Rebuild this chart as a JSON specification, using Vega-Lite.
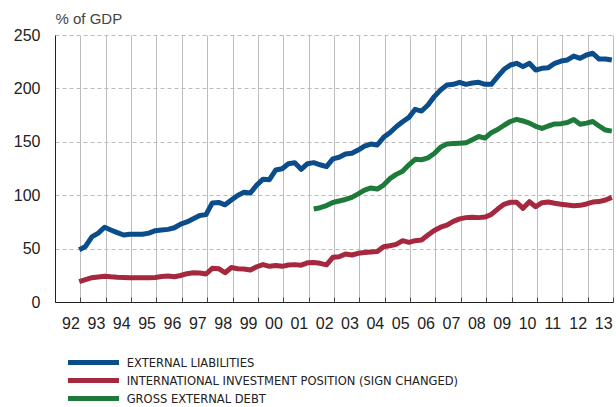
{
  "$schema": "https://vega.github.io/schema/vega-lite/v6.json",
  "width": 558,
  "height": 267,
  "autosize": "none",
  "padding": {"left": 55, "top": 35, "right": 3, "bottom": 105},
  "background": "white",
  "config": {"view": {"stroke": null}, "font": "Liberation Sans"},
  "data": {"values": [
    {"date":"1992-12-15","series":"EL","value":49},
    {"date":"1993-03-15","series":"EL","value":52},
    {"date":"1993-06-15","series":"EL","value":61},
    {"date":"1993-09-15","series":"EL","value":64.5},
    {"date":"1993-12-15","series":"EL","value":70},
    {"date":"1994-03-15","series":"EL","value":67.4},
    {"date":"1994-06-15","series":"EL","value":65},
    {"date":"1994-09-15","series":"EL","value":62.7},
    {"date":"1994-12-15","series":"EL","value":63.5},
    {"date":"1995-03-15","series":"EL","value":63.5},
    {"date":"1995-06-15","series":"EL","value":63.5},
    {"date":"1995-09-15","series":"EL","value":64.5},
    {"date":"1995-12-15","series":"EL","value":66.8},
    {"date":"1996-03-15","series":"EL","value":67.5},
    {"date":"1996-06-15","series":"EL","value":68},
    {"date":"1996-09-15","series":"EL","value":69.5},
    {"date":"1996-12-15","series":"EL","value":73},
    {"date":"1997-03-15","series":"EL","value":75},
    {"date":"1997-06-15","series":"EL","value":78},
    {"date":"1997-09-15","series":"EL","value":81},
    {"date":"1997-12-15","series":"EL","value":81.8},
    {"date":"1998-03-15","series":"EL","value":92.8},
    {"date":"1998-06-15","series":"EL","value":93.2},
    {"date":"1998-09-15","series":"EL","value":91},
    {"date":"1998-12-15","series":"EL","value":95.5},
    {"date":"1999-03-15","series":"EL","value":99.7},
    {"date":"1999-06-15","series":"EL","value":102.7},
    {"date":"1999-09-15","series":"EL","value":102},
    {"date":"1999-12-15","series":"EL","value":109.5},
    {"date":"2000-03-15","series":"EL","value":115},
    {"date":"2000-06-15","series":"EL","value":114.5},
    {"date":"2000-09-15","series":"EL","value":123.6},
    {"date":"2000-12-15","series":"EL","value":124.8},
    {"date":"2001-03-15","series":"EL","value":129.5},
    {"date":"2001-06-15","series":"EL","value":130.3},
    {"date":"2001-09-15","series":"EL","value":124.2},
    {"date":"2001-12-15","series":"EL","value":129.5},
    {"date":"2002-03-15","series":"EL","value":130.5},
    {"date":"2002-06-15","series":"EL","value":128.5},
    {"date":"2002-09-15","series":"EL","value":126.7},
    {"date":"2002-12-15","series":"EL","value":134},
    {"date":"2003-03-15","series":"EL","value":135.5},
    {"date":"2003-06-15","series":"EL","value":138.6},
    {"date":"2003-09-15","series":"EL","value":139.2},
    {"date":"2003-12-15","series":"EL","value":142.3},
    {"date":"2004-03-15","series":"EL","value":146},
    {"date":"2004-06-15","series":"EL","value":147.9},
    {"date":"2004-09-15","series":"EL","value":147},
    {"date":"2004-12-15","series":"EL","value":154.2},
    {"date":"2005-03-15","series":"EL","value":158.5},
    {"date":"2005-06-15","series":"EL","value":164.1},
    {"date":"2005-09-15","series":"EL","value":168.8},
    {"date":"2005-12-15","series":"EL","value":172.9},
    {"date":"2006-03-15","series":"EL","value":180.4},
    {"date":"2006-06-15","series":"EL","value":178.8},
    {"date":"2006-09-15","series":"EL","value":184.5},
    {"date":"2006-12-15","series":"EL","value":192.3},
    {"date":"2007-03-15","series":"EL","value":198.5},
    {"date":"2007-06-15","series":"EL","value":203.2},
    {"date":"2007-09-15","series":"EL","value":203.8},
    {"date":"2007-12-15","series":"EL","value":205.7},
    {"date":"2008-03-15","series":"EL","value":203.8},
    {"date":"2008-06-15","series":"EL","value":205},
    {"date":"2008-09-15","series":"EL","value":205.7},
    {"date":"2008-12-15","series":"EL","value":203.8},
    {"date":"2009-03-15","series":"EL","value":203.8},
    {"date":"2009-06-15","series":"EL","value":211},
    {"date":"2009-09-15","series":"EL","value":217.9},
    {"date":"2009-12-15","series":"EL","value":221.9},
    {"date":"2010-03-15","series":"EL","value":223.5},
    {"date":"2010-06-15","series":"EL","value":220.4},
    {"date":"2010-09-15","series":"EL","value":223.5},
    {"date":"2010-12-15","series":"EL","value":217.2},
    {"date":"2011-03-15","series":"EL","value":218.8},
    {"date":"2011-06-15","series":"EL","value":219.4},
    {"date":"2011-09-15","series":"EL","value":223.5},
    {"date":"2011-12-15","series":"EL","value":225.6},
    {"date":"2012-03-15","series":"EL","value":226.6},
    {"date":"2012-06-15","series":"EL","value":230.3},
    {"date":"2012-09-15","series":"EL","value":228.2},
    {"date":"2012-12-15","series":"EL","value":231.3},
    {"date":"2013-03-15","series":"EL","value":232.9},
    {"date":"2013-06-15","series":"EL","value":227.5},
    {"date":"2013-09-15","series":"EL","value":227.5},
    {"date":"2013-12-15","series":"EL","value":226.6},
    {"date":"1992-12-15","series":"IIP","value":19},
    {"date":"1993-03-15","series":"IIP","value":21},
    {"date":"1993-06-15","series":"IIP","value":22.8},
    {"date":"1993-09-15","series":"IIP","value":23.5},
    {"date":"1993-12-15","series":"IIP","value":24.2},
    {"date":"1994-03-15","series":"IIP","value":23.6},
    {"date":"1994-06-15","series":"IIP","value":23.2},
    {"date":"1994-09-15","series":"IIP","value":23},
    {"date":"1994-12-15","series":"IIP","value":22.8},
    {"date":"1995-03-15","series":"IIP","value":22.6},
    {"date":"1995-06-15","series":"IIP","value":22.6},
    {"date":"1995-09-15","series":"IIP","value":22.8},
    {"date":"1995-12-15","series":"IIP","value":23},
    {"date":"1996-03-15","series":"IIP","value":23.8},
    {"date":"1996-06-15","series":"IIP","value":24.3},
    {"date":"1996-09-15","series":"IIP","value":23.7},
    {"date":"1996-12-15","series":"IIP","value":24.8},
    {"date":"1997-03-15","series":"IIP","value":26.5},
    {"date":"1997-06-15","series":"IIP","value":27.4},
    {"date":"1997-09-15","series":"IIP","value":27.2},
    {"date":"1997-12-15","series":"IIP","value":26.2},
    {"date":"1998-03-15","series":"IIP","value":31.5},
    {"date":"1998-06-15","series":"IIP","value":31.2},
    {"date":"1998-09-15","series":"IIP","value":27.4},
    {"date":"1998-12-15","series":"IIP","value":32.3},
    {"date":"1999-03-15","series":"IIP","value":31.2},
    {"date":"1999-06-15","series":"IIP","value":30.9},
    {"date":"1999-09-15","series":"IIP","value":30},
    {"date":"1999-12-15","series":"IIP","value":33},
    {"date":"2000-03-15","series":"IIP","value":35},
    {"date":"2000-06-15","series":"IIP","value":33.4},
    {"date":"2000-09-15","series":"IIP","value":34.2},
    {"date":"2000-12-15","series":"IIP","value":33.4},
    {"date":"2001-03-15","series":"IIP","value":34.6},
    {"date":"2001-06-15","series":"IIP","value":35},
    {"date":"2001-09-15","series":"IIP","value":34.5},
    {"date":"2001-12-15","series":"IIP","value":36.7},
    {"date":"2002-03-15","series":"IIP","value":37},
    {"date":"2002-06-15","series":"IIP","value":36.2},
    {"date":"2002-09-15","series":"IIP","value":34.8},
    {"date":"2002-12-15","series":"IIP","value":41.8},
    {"date":"2003-03-15","series":"IIP","value":42.4},
    {"date":"2003-06-15","series":"IIP","value":44.9},
    {"date":"2003-09-15","series":"IIP","value":44},
    {"date":"2003-12-15","series":"IIP","value":45.6},
    {"date":"2004-03-15","series":"IIP","value":46.3},
    {"date":"2004-06-15","series":"IIP","value":46.8},
    {"date":"2004-09-15","series":"IIP","value":47.2},
    {"date":"2004-12-15","series":"IIP","value":51.8},
    {"date":"2005-03-15","series":"IIP","value":52.7},
    {"date":"2005-06-15","series":"IIP","value":54},
    {"date":"2005-09-15","series":"IIP","value":57.4},
    {"date":"2005-12-15","series":"IIP","value":55.9},
    {"date":"2006-03-15","series":"IIP","value":57.4},
    {"date":"2006-06-15","series":"IIP","value":58},
    {"date":"2006-09-15","series":"IIP","value":62.7},
    {"date":"2006-12-15","series":"IIP","value":67},
    {"date":"2007-03-15","series":"IIP","value":70},
    {"date":"2007-06-15","series":"IIP","value":72},
    {"date":"2007-09-15","series":"IIP","value":75.5},
    {"date":"2007-12-15","series":"IIP","value":77.8},
    {"date":"2008-03-15","series":"IIP","value":79},
    {"date":"2008-06-15","series":"IIP","value":79.3},
    {"date":"2008-09-15","series":"IIP","value":79},
    {"date":"2008-12-15","series":"IIP","value":79.5},
    {"date":"2009-03-15","series":"IIP","value":82},
    {"date":"2009-06-15","series":"IIP","value":87},
    {"date":"2009-09-15","series":"IIP","value":91.5},
    {"date":"2009-12-15","series":"IIP","value":93.4},
    {"date":"2010-03-15","series":"IIP","value":93.4},
    {"date":"2010-06-15","series":"IIP","value":87.7},
    {"date":"2010-09-15","series":"IIP","value":93.9},
    {"date":"2010-12-15","series":"IIP","value":89.2},
    {"date":"2011-03-15","series":"IIP","value":93},
    {"date":"2011-06-15","series":"IIP","value":93.6},
    {"date":"2011-09-15","series":"IIP","value":92.4},
    {"date":"2011-12-15","series":"IIP","value":91.5},
    {"date":"2012-03-15","series":"IIP","value":90.8},
    {"date":"2012-06-15","series":"IIP","value":90.2},
    {"date":"2012-09-15","series":"IIP","value":90.5},
    {"date":"2012-12-15","series":"IIP","value":91.8},
    {"date":"2013-03-15","series":"IIP","value":93.6},
    {"date":"2013-06-15","series":"IIP","value":94},
    {"date":"2013-09-15","series":"IIP","value":95.5},
    {"date":"2013-12-15","series":"IIP","value":98},
    {"date":"2002-03-15","series":"GED","value":87.1},
    {"date":"2002-06-15","series":"GED","value":88.3},
    {"date":"2002-09-15","series":"GED","value":90.3},
    {"date":"2002-12-15","series":"GED","value":93.2},
    {"date":"2003-03-15","series":"GED","value":94.6},
    {"date":"2003-06-15","series":"GED","value":96},
    {"date":"2003-09-15","series":"GED","value":98},
    {"date":"2003-12-15","series":"GED","value":101.3},
    {"date":"2004-03-15","series":"GED","value":104.8},
    {"date":"2004-06-15","series":"GED","value":106.8},
    {"date":"2004-09-15","series":"GED","value":105.8},
    {"date":"2004-12-15","series":"GED","value":109.5},
    {"date":"2005-03-15","series":"GED","value":115.5},
    {"date":"2005-06-15","series":"GED","value":119.5},
    {"date":"2005-09-15","series":"GED","value":122.5},
    {"date":"2005-12-15","series":"GED","value":128.5},
    {"date":"2006-03-15","series":"GED","value":133.6},
    {"date":"2006-06-15","series":"GED","value":133.2},
    {"date":"2006-09-15","series":"GED","value":135},
    {"date":"2006-12-15","series":"GED","value":139},
    {"date":"2007-03-15","series":"GED","value":145},
    {"date":"2007-06-15","series":"GED","value":148},
    {"date":"2007-09-15","series":"GED","value":148.3},
    {"date":"2007-12-15","series":"GED","value":148.6},
    {"date":"2008-03-15","series":"GED","value":149},
    {"date":"2008-06-15","series":"GED","value":152},
    {"date":"2008-09-15","series":"GED","value":155},
    {"date":"2008-12-15","series":"GED","value":153.5},
    {"date":"2009-03-15","series":"GED","value":158.5},
    {"date":"2009-06-15","series":"GED","value":161.5},
    {"date":"2009-09-15","series":"GED","value":165.5},
    {"date":"2009-12-15","series":"GED","value":169},
    {"date":"2010-03-15","series":"GED","value":171},
    {"date":"2010-06-15","series":"GED","value":169.5},
    {"date":"2010-09-15","series":"GED","value":167.5},
    {"date":"2010-12-15","series":"GED","value":164.5},
    {"date":"2011-03-15","series":"GED","value":162.5},
    {"date":"2011-06-15","series":"GED","value":164.8},
    {"date":"2011-09-15","series":"GED","value":166.7},
    {"date":"2011-12-15","series":"GED","value":167},
    {"date":"2012-03-15","series":"GED","value":168},
    {"date":"2012-06-15","series":"GED","value":170.8},
    {"date":"2012-09-15","series":"GED","value":166.5},
    {"date":"2012-12-15","series":"GED","value":167.5},
    {"date":"2013-03-15","series":"GED","value":169},
    {"date":"2013-06-15","series":"GED","value":164.8},
    {"date":"2013-09-15","series":"GED","value":161},
    {"date":"2013-12-15","series":"GED","value":160}
  ]},
  "mark": {"type": "line", "strokeWidth": 5, "strokeJoin": "round", "strokeCap": "butt"},
  "encoding": {
    "x": {
      "field": "date",
      "type": "temporal",
      "scale": {"type": "utc", "domain": [{"year": 1992, "month": 1, "date": 1, "utc": true}, {"year": 2014, "month": 1, "date": 1, "utc": true}]},
      "axis": {
        "title": null,
        "format": "%y",
        "tickCount": {"interval": "year", "step": 1},
        "labelExpr": "utcyear(datum.value) >= 2014 ? '' : datum.label",
        "grid": true,
        "gridColor": "#bdbdbd",
        "gridWidth": 1,
        "ticks": true,
        "tickSize": -5,
        "tickColor": "#444",
        "domainColor": "#222",
        "labelFontSize": 16,
        "labelColor": "#222",
        "labelOffset": 15.5,
        "labelPadding": 18,
        "labelOverlap": false,
        "labelFlush": false,
        "labelBound": false
      }
    },
    "y": {
      "field": "value",
      "type": "quantitative",
      "scale": {"domain": [0, 250], "nice": false},
      "axis": {
        "title": "% of GDP",
        "titleAngle": 0,
        "titleAlign": "left",
        "titleBaseline": "alphabetic",
        "titleX": 0,
        "titleY": -12,
        "titleFontSize": 15,
        "titleFontWeight": "normal",
        "titleColor": "#444",
        "values": [0, 50, 100, 150, 200, 250],
        "grid": true,
        "gridColor": "#bbbbbb",
        "gridDash": [4, 3],
        "ticks": false,
        "domainColor": "#222",
        "labelFontSize": 16,
        "labelColor": "#222",
        "labelPadding": 15
      }
    },
    "color": {
      "field": "series",
      "type": "nominal",
      "scale": {"domain": ["EL", "IIP", "GED"], "range": ["#0b4c8a", "#a5283f", "#1e7a3a"]},
      "legend": {
        "orient": "none",
        "legendX": 31,
        "legendY": 320,
        "direction": "vertical",
        "title": null,
        "padding": 0,
        "symbolType": "M-5.1,0H5.1",
        "symbolSize": 100,
        "symbolStrokeWidth": 5,
        "rowPadding": -3.2,
        "labelFont": "DejaVu Sans Condensed, Liberation Sans Narrow, Roboto Condensed, sans-serif",
        "labelFontSize": 12.8,
        "labelColor": "#222",
        "labelOffset": 25.7,
        "labelLimit": 500,
        "labelExpr": "datum.value == 'EL' ? 'EXTERNAL LIABILITIES' : datum.value == 'IIP' ? 'INTERNATIONAL INVESTMENT POSITION (SIGN CHANGED)' : 'GROSS EXTERNAL DEBT'"
      }
    }
  }
}
